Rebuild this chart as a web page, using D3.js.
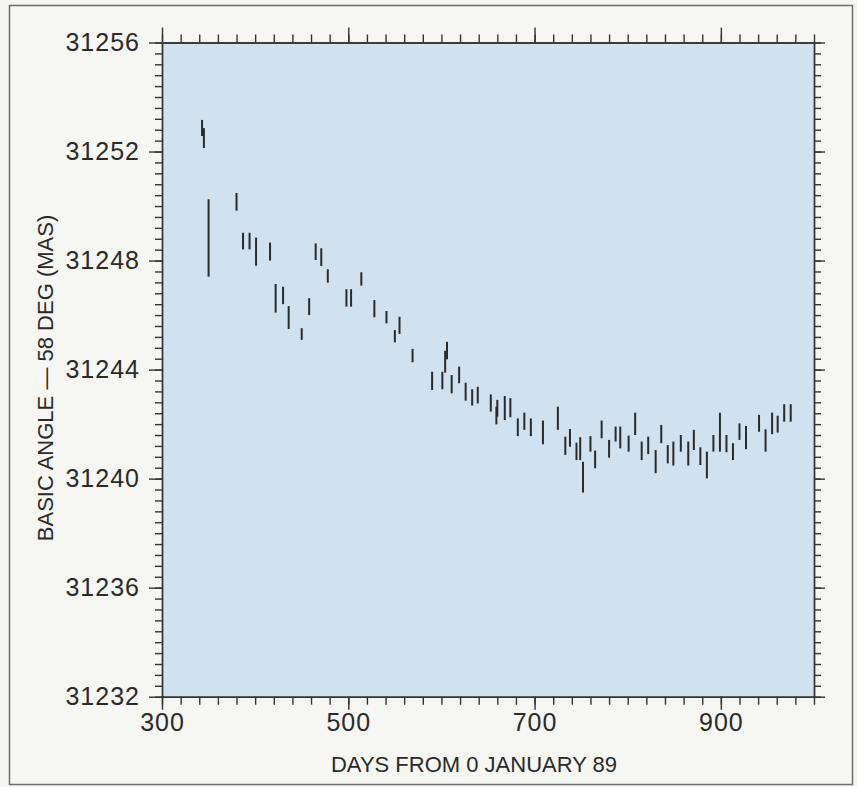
<!DOCTYPE html>
<html>
<head>
<meta charset="utf-8">
<script src="https://cdn.jsdelivr.net/npm/d3@7"></script>
<style>
  body { margin: 0; background: #f5f5f2; }
  svg { display: block; }
  .axis path, .axis line { stroke: #333; stroke-width: 1.4; }
  .axis text { font-family: "Liberation Sans", Arial, sans-serif; font-size: 25px; fill: #2a2a2a; letter-spacing: 1px; }
  .label { font-family: "Liberation Sans", Arial, sans-serif; font-size: 22px; fill: #2a2a2a; }
</style>
</head>
<body>
<div id="chart"></div>
<script>
// days from 0 Jan 89
const days = [343,345,350,380,387,394,401,416,422,430,436,450,458,465,471,478,498,503,514,528,
  541,550,555,569,590,601,604,606,611,619,626,633,639,653,659,660,668,674,682,689,
  696,709,725,733,738,745,749,752,760,765,772,780,787,792,801,808,815,822,830,836,
  843,849,857,865,871,878,885,892,899,906,913,920,927,941,948,955,961,968,975]

// lower / upper end of each error bar (mas)
const lows = [31252.57,31252.13,31247.41,31249.83,31248.41,31248.41,31247.81,31248.00,31246.09,31246.40,
  31245.49,31245.09,31246.00,31248.02,31247.80,31247.19,31246.31,31246.31,31247.08,31245.92,
  31245.70,31245.00,31245.31,31244.27,31243.25,31243.28,31243.89,31244.38,31243.13,31243.50,
  31242.86,31242.68,31242.76,31242.46,31241.99,31242.27,31242.15,31242.25,31241.56,31241.79,
  31241.56,31241.26,31241.79,31240.87,31241.17,31240.68,31240.68,31239.49,31240.99,31240.38,
  31241.48,31240.77,31241.36,31241.11,31240.99,31241.60,31240.68,31240.90,31240.20,31241.30,
  31240.56,31240.48,31240.99,31240.48,31241.05,31240.50,31240.01,31240.99,31240.99,31240.97,
  31240.68,31241.42,31241.08,31241.72,31240.99,31241.63,31241.69,31242.09,31242.09]

const highs = [31253.16,31252.86,31250.25,31250.48,31249.02,31249.02,31248.84,31248.66,31247.14,31247.04,
  31246.33,31245.52,31246.62,31248.63,31248.45,31247.68,31246.95,31246.95,31247.57,31246.55,
  31246.15,31245.45,31245.94,31244.76,31243.92,31243.92,31244.69,31245.02,31243.80,31244.11,
  31243.52,31243.28,31243.37,31243.09,31242.64,31242.89,31243.03,31242.95,31242.21,31242.42,
  31242.21,31242.13,31242.64,31241.54,31241.82,31241.32,31241.52,31240.62,31241.56,31241.03,
  31242.13,31241.42,31241.91,31241.91,31241.58,31242.42,31241.36,31241.54,31241.05,31241.97,
  31241.23,31241.36,31241.60,31241.36,31241.79,31241.15,31240.99,31241.60,31242.42,31241.60,
  31241.30,31242.03,31241.93,31242.34,31241.81,31242.42,31242.31,31242.73,31242.73]

const xTickLabels = [300, 500, 700, 900]
const yTickLabels = [31232, 31236, 31240, 31244, 31248, 31252, 31256]

const W = 857, H = 787
const plot = { left: 162, right: 814, top: 42.5, bottom: 696.7 }

const svg = d3.select('#chart')
  .append('svg')
    .attr('width', W)
    .attr('height', H)

// page frame
svg.append('rect')
  .attr('x', 9.5).attr('y', 5.5)
  .attr('width', 843).attr('height', 779)
  .attr('fill', '#f6f6f3')
  .attr('stroke', '#6e6e6e')
  .attr('stroke-width', 1.5)

const x = d3.scaleLinear().domain([300, 1000]).range([plot.left, plot.right])
const y = d3.scaleLinear().domain([31232, 31256]).range([plot.bottom, plot.top])

svg.append('rect')
  .attr('x', plot.left).attr('y', plot.top)
  .attr('width', plot.right - plot.left)
  .attr('height', plot.bottom - plot.top)
  .attr('fill', '#d0e1ef')

const xMinor = d3.range(0, 36).map(i => 300 + i * 20)
const yMinor = d3.range(0, 61).map(i => 31232 + i * 0.4)

const addAxis = (axis, tx, ty) => svg.append('g')
  .attr('class', 'axis')
  .attr('transform', `translate(${tx}, ${ty})`)
  .call(axis)

// minor ticks on all four sides
addAxis(d3.axisBottom(x).tickValues(xMinor).tickSize(8).tickSizeOuter(0).tickFormat(''), 0, plot.bottom)
addAxis(d3.axisTop(x).tickValues(xMinor).tickSize(8).tickSizeOuter(0).tickFormat(''), 0, plot.top)
addAxis(d3.axisLeft(y).tickValues(yMinor).tickSize(7).tickSizeOuter(0).tickFormat(''), plot.left, 0)
addAxis(d3.axisRight(y).tickValues(yMinor).tickSize(7).tickSizeOuter(0).tickFormat(''), plot.right, 0)

// major ticks + labels
addAxis(d3.axisBottom(x).tickValues(xTickLabels).tickSize(13).tickSizeOuter(0).tickPadding(4).tickFormat(d3.format('d')), 0, plot.bottom)
addAxis(d3.axisTop(x).tickValues(xTickLabels).tickSize(15).tickSizeOuter(0).tickFormat(''), 0, plot.top)
addAxis(d3.axisLeft(y).tickValues(yTickLabels).tickSize(13).tickSizeOuter(0).tickPadding(9).tickFormat(d3.format('d')), plot.left, 0)
addAxis(d3.axisRight(y).tickValues(yTickLabels).tickSize(11).tickSizeOuter(0).tickFormat(''), plot.right, 0)

svg.selectAll('.axis path.domain').attr('stroke-width', 1.6)

// error bars
svg.append('g')
  .selectAll('line')
  .data(days.map((d, i) => ({ day: d, lo: lows[i], hi: highs[i] })))
  .enter()
  .append('line')
    .attr('x1', d => x(d.day))
    .attr('x2', d => x(d.day))
    .attr('y1', d => y(d.lo))
    .attr('y2', d => y(d.hi))
    .attr('stroke', '#2a2a2a')
    .attr('stroke-width', 2)

svg.append('text')
  .attr('class', 'label')
  .attr('x', 474)
  .attr('y', 772)
  .attr('text-anchor', 'middle')
  .text('DAYS FROM 0 JANUARY 89')

svg.append('text')
  .attr('class', 'label')
  .attr('transform', 'translate(53, 378) rotate(-90)')
  .attr('text-anchor', 'middle')
  .text('BASIC ANGLE — 58 DEG (MAS)')
</script>
</body>
</html>
